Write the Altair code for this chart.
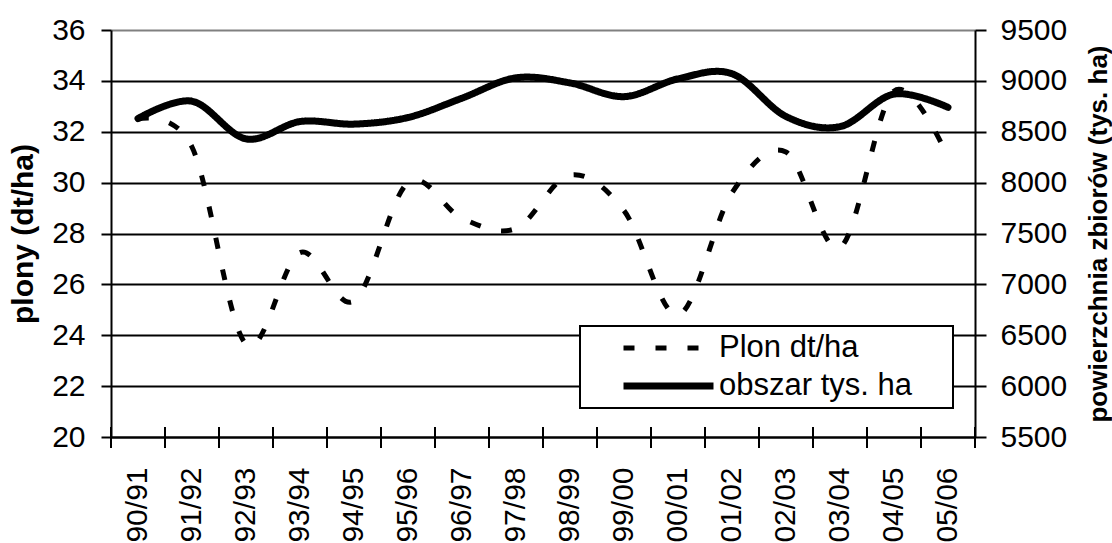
import altair as alt
import pandas as pd

# Seasons on the x axis
seasons = ["90/91", "91/92", "92/93", "93/94", "94/95", "95/96", "96/97", "97/98",
           "98/99", "99/00", "00/01", "01/02", "02/03", "03/04", "04/05", "05/06"]

# Yield (dt/ha), left axis
plon = [32.5, 31.4, 23.65, 27.25, 25.35, 30.0, 28.6, 28.2,
        30.3, 28.9, 24.8, 29.6, 31.2, 27.45, 33.6, 31.0]

# Harvested area (thousand ha), right axis
obszar = [8630, 8800, 8430, 8600, 8575, 8640, 8830, 9030,
          8980, 8845, 9020, 9070, 8650, 8550, 8870, 8740]

series_names = ["Plon dt/ha", "obszar tys. ha"]
left_ticks = [20, 22, 24, 26, 28, 30, 32, 34, 36]
right_ticks = [5500, 6000, 6500, 7000, 7500, 8000, 8500, 9000, 9500]

W, H = 864, 407
FONT = "Liberation Sans"
TICK_FS = 30

df_plon = pd.DataFrame({"season": seasons, "value": plon, "series": series_names[0]})
df_obszar = pd.DataFrame({"season": seasons, "value": obszar, "series": series_names[1]})
df_seasons = pd.DataFrame({"season": seasons})

x_scale = alt.Scale(type="band", domain=seasons, paddingInner=0, paddingOuter=0)
x_axis = alt.Axis(
    title=None, labelAngle=270, labelAlign="right", labelBaseline="middle",
    labelPadding=30, ticks=False, tickSize=0, grid=False,
    domainColor="black", domainWidth=2,
    labelFont=FONT, labelFontSize=TICK_FS, labelColor="black",
)

# Boxed legend inside the plot; a blank title on the right widens the box
legend = alt.Legend(
    title=" ", titleOrient="right", titlePadding=34, titleFontSize=10,
    orient="none", legendX=469, legendY=296,
    fillColor="white", strokeColor="black", padding=7,
    symbolType="stroke", symbolSize=8100, clipHeight=30,
    symbolOffset=33, labelOffset=2, rowPadding=7,
    symbolStrokeColor="black", labelLimit=600,
    labelFont=FONT, labelFontSize=31, labelColor="black",
)
dash_enc = alt.StrokeDash(
    "series:N",
    scale=alt.Scale(domain=series_names, range=[[11, 21], [1, 0]]),
    legend=legend,
)
width_enc = alt.StrokeWidth(
    "series:N",
    scale=alt.Scale(domain=series_names, range=[5, 7]),
    legend=legend,
)

# Category boundary ticks crossing the x axis
tick_start = alt.Chart(df_seasons).mark_rule(color="black", strokeWidth=2).encode(
    x=alt.X("season:N", scale=x_scale, axis=x_axis, bandPosition=0),
    y=alt.value(H - 10), y2=alt.value(H + 11),
)
tick_end = alt.Chart(df_seasons).mark_rule(color="black", strokeWidth=2).encode(
    x=alt.X("season:N", scale=x_scale, axis=x_axis, bandPosition=1),
    y=alt.value(H - 10), y2=alt.value(H + 11),
)

plon_line = alt.Chart(df_plon).mark_line(
    color="black", interpolate="cardinal", strokeCap="butt"
).encode(
    x=alt.X("season:N", scale=x_scale, axis=x_axis),
    y=alt.Y(
        "value:Q",
        scale=alt.Scale(domain=[20, 36], nice=False, zero=False),
        axis=alt.Axis(
            orient="left", values=left_ticks, format="d", title="plony (dt/ha)",
            grid=True, gridWidth=2,
            gridColor={"condition": {"test": "datum.value === 36", "value": "#808080"}, "value": "black"},
            tickSize=10, tickWidth=2, tickColor="black",
            domainColor="black", domainWidth=2,
            labelPadding=16, labelFont=FONT, labelFontSize=TICK_FS, labelColor="black",
            titleFont=FONT, titleFontSize=30, titleFontWeight="bold", titleColor="black",
            titleAngle=270, titleX=-88, titleY=H / 2,
            titleAlign="center", titleBaseline="middle",
        ),
    ),
    strokeDash=dash_enc,
    strokeWidth=width_enc,
)

obszar_line = alt.Chart(df_obszar).mark_line(
    color="black", interpolate="cardinal", strokeCap="round", strokeJoin="round"
).encode(
    x=alt.X("season:N", scale=x_scale, axis=x_axis),
    y=alt.Y(
        "value:Q",
        scale=alt.Scale(domain=[5500, 9500], nice=False, zero=False),
        axis=alt.Axis(
            orient="right", values=right_ticks, format="d",
            title="powierzchnia zbiorów (tys. ha)",
            grid=False,
            tickSize=11, tickWidth=2, tickColor="black",
            domainColor="black", domainWidth=2,
            labelPadding=14, labelFont=FONT, labelFontSize=TICK_FS, labelColor="black",
            titleFont=FONT, titleFontSize=26, titleFontWeight="bold", titleColor="black",
            titleAngle=270, titleX=123, titleY=H / 2,
            titleAlign="center", titleBaseline="middle",
        ),
    ),
    strokeDash=dash_enc,
    strokeWidth=width_enc,
)

chart = alt.layer(tick_start, tick_end, plon_line, obszar_line).resolve_scale(
    y="independent"
).properties(
    width=W, height=H,
    padding={"left": 111, "top": 30, "right": 137, "bottom": 106},
    autosize=alt.AutoSizeParams(type="none"),
    background="white",
).configure_view(stroke=None).configure_legend(strokeWidth=2)

chart.save("out.html", embed_options={"renderer": "svg", "actions": False})
